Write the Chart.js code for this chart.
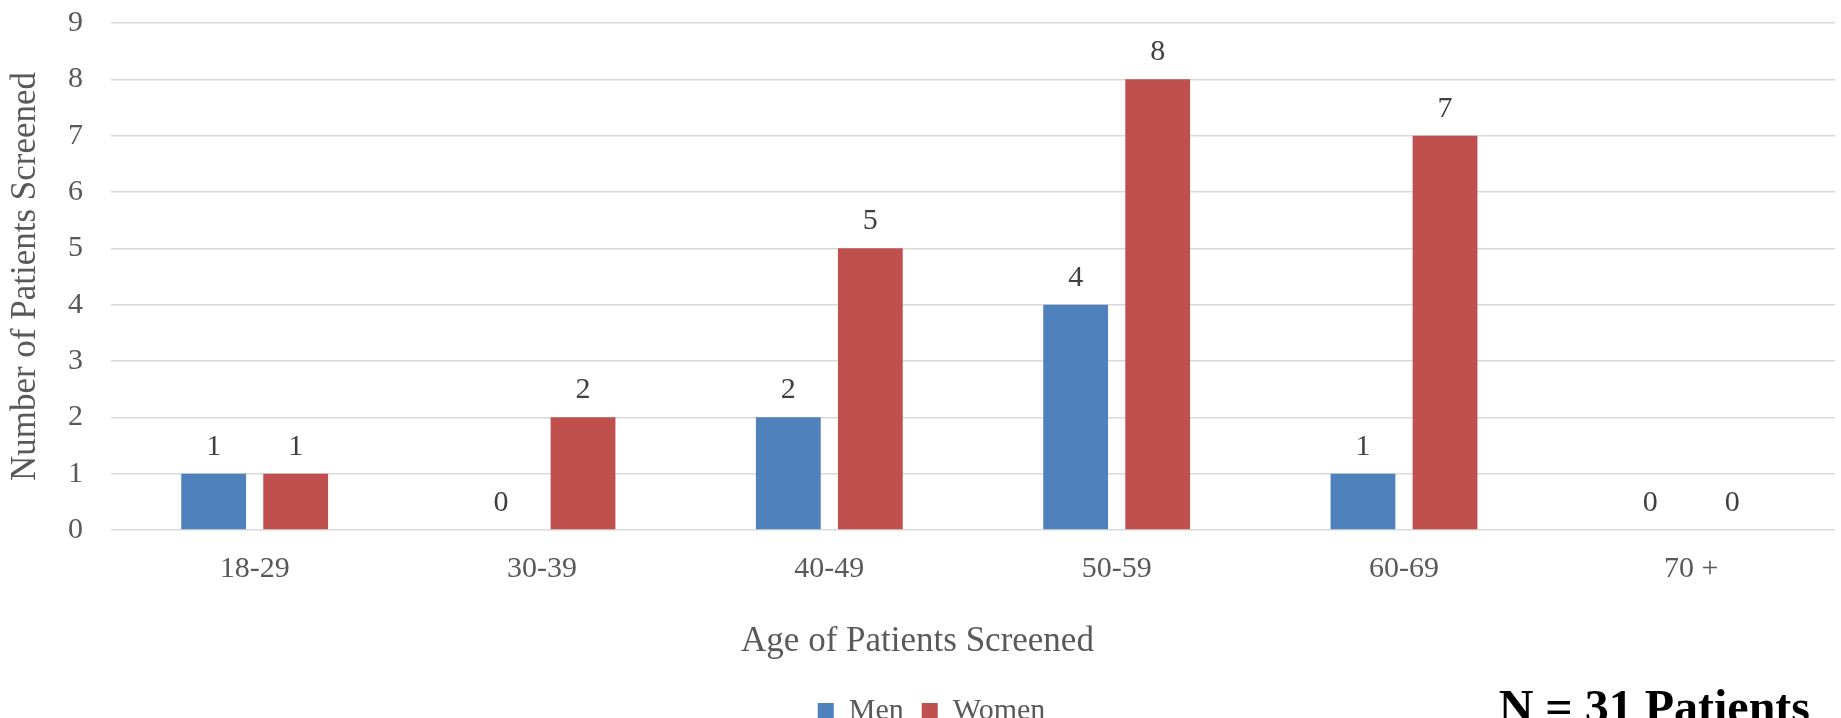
<!DOCTYPE html>
<html>
<head>
<meta charset="utf-8">
<script src="https://cdn.jsdelivr.net/npm/chart.js"></script>
<style>
  html, body { margin: 0; padding: 0; background: #fff; overflow: hidden; }
  #wrap { position: relative; width: 1841px; height: 736px; }
</style>
</head>
<body>
<div id="wrap"><canvas id="ageChart"></canvas></div>
<script>
// Dados do gráfico
const ageGroups = ['18-29', '30-39', '40-49', '50-59', '60-69', '70 +'];
const menCounts = [1, 0, 2, 4, 1, 0];
const womenCounts = [1, 2, 5, 8, 7, 0];
const yMax = 9;
const totalNote = 'N = 31 Patients';

const serif = "'Liberation Serif', 'Times New Roman', serif";
Chart.defaults.font.family = serif;

// Rótulos de valor acima das barras
const valueLabels = {
    id: 'valueLabels',
    afterDatasetsDraw(chart) {
        const ctx = chart.ctx;
        ctx.save();
        ctx.font = '30px ' + serif;
        ctx.fillStyle = '#404040';
        ctx.textAlign = 'center';
        ctx.textBaseline = 'middle';
        chart.data.datasets.forEach((ds, i) => {
            chart.getDatasetMeta(i).data.forEach((bar, j) => {
                ctx.fillText(ds.data[j], bar.x, bar.y - 27);
            });
        });
        ctx.restore();
    }
};

// Legenda um pouco à direita do centro, como no original
const legendShift = {
    id: 'legendShift',
    afterLayout(chart) {
        if (chart.legend) {
            chart.legend.left += 14;
            chart.legend.right += 14;
        }
    }
};

// Nota "N = 31 Patients" no canto inferior direito
const noteText = {
    id: 'noteText',
    afterDraw(chart) {
        const ctx = chart.ctx;
        ctx.save();
        ctx.font = 'bold 48px ' + serif;
        ctx.fillStyle = '#000000';
        ctx.textAlign = 'right';
        ctx.textBaseline = 'alphabetic';
        ctx.fillText(totalNote, chart.width - 31, 723);
        ctx.restore();
    }
};

const ctxAge = document.getElementById('ageChart').getContext('2d');
new Chart(ctxAge, {
    type: 'bar',
    data: {
        labels: ageGroups,
        datasets: [{
            label: 'Men',
            data: menCounts,
            backgroundColor: '#4F81BD',
            categoryPercentage: 0.571,
            barPercentage: 0.79
        }, {
            label: 'Women',
            data: womenCounts,
            backgroundColor: '#C0504D',
            categoryPercentage: 0.571,
            barPercentage: 0.79
        }]
    },
    options: {
        responsive: true,
        maintainAspectRatio: false,
        animation: false,
        layout: {
            padding: { top: 23, right: 6, left: 0, bottom: 0 }
        },
        scales: {
            x: {
                grid: { display: false },
                border: { display: false },
                ticks: { color: '#595959', font: { size: 30 }, padding: 13 },
                afterFit(scale) { scale.height = 62; }
            },
            y: {
                min: 0,
                max: yMax,
                ticks: { stepSize: 1, color: '#595959', font: { size: 30 }, padding: 28 },
                grid: { color: '#D9D9D9', lineWidth: 1.5, drawTicks: false },
                border: { display: false },
                title: {
                    display: true,
                    text: 'Number of Patients Screened',
                    color: '#595959',
                    font: { size: 35 },
                    padding: { top: 5, bottom: 0 }
                },
                afterFit(scale) {
                    scale.width = 111;
                    scale.paddingTop = 0;
                    scale.paddingBottom = 0;
                }
            }
        },
        plugins: {
            legend: {
                position: 'bottom',
                labels: {
                    boxWidth: 16,
                    boxHeight: 16,
                    color: '#595959',
                    font: { size: 30 },
                    padding: 18
                }
            },
            title: {
                display: true,
                position: 'bottom',
                weight: 500,
                text: 'Age of Patients Screened',
                color: '#595959',
                font: { size: 35, weight: 'normal' },
                padding: { top: 29, bottom: 15 }
            },
            tooltip: { enabled: false }
        }
    },
    plugins: [valueLabels, legendShift, noteText]
});
</script>
</body>
</html>
